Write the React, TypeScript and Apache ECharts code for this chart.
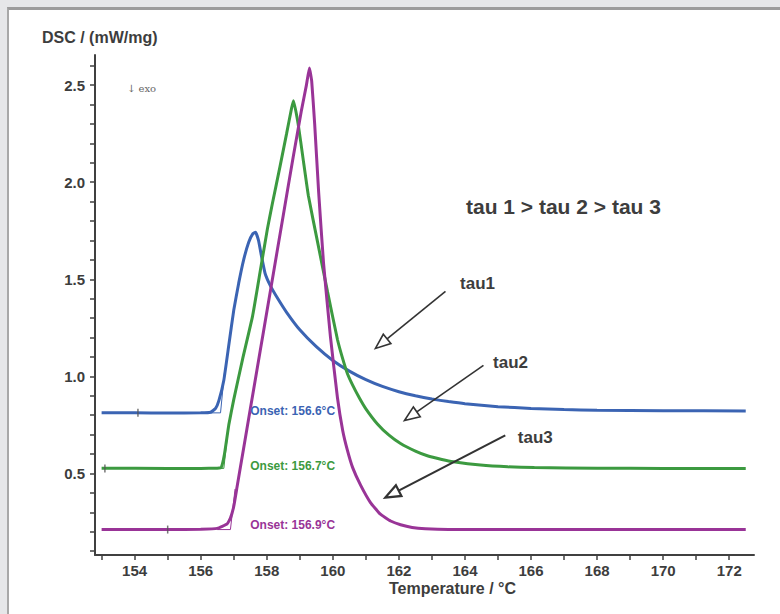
import React, { useEffect, useRef } from "react";
import * as echarts from "echarts";

// tau1 (blue)
const tau1Temp = [153.0, 154.0, 155.0, 156.0, 156.3, 156.45, 156.55, 156.7, 156.85, 157.0, 157.15, 157.3, 157.45, 157.58, 157.66, 157.75, 157.85, 157.95, 158.1, 158.3, 158.6, 159.0, 159.5, 160.0, 160.5, 161.0, 161.5, 162.0, 162.5, 163.0, 163.5, 164.0, 165.0, 166.0, 167.0, 168.0, 170.0, 172.5];
const tau1Dsc = [0.812, 0.812, 0.811, 0.812, 0.815, 0.835, 0.875, 0.98, 1.16, 1.34, 1.48, 1.6, 1.69, 1.735, 1.742, 1.70, 1.61, 1.53, 1.47, 1.41, 1.33, 1.24, 1.153, 1.082, 1.027, 0.983, 0.948, 0.921, 0.90, 0.883, 0.87, 0.859, 0.844, 0.835, 0.829, 0.826, 0.823, 0.822];

// tau2 (green)
const tau2Temp = [153.0, 155.0, 156.0, 156.5, 156.62, 156.72, 156.85, 157.0, 157.27, 157.57, 157.81, 158.02, 158.17, 158.4, 158.6, 158.75, 158.81, 158.95, 159.1, 159.26, 159.54, 159.84, 160.14, 160.3, 160.44, 160.6, 160.8, 161.0, 161.35, 161.7, 162.05, 162.5, 162.86, 163.3, 163.65, 164.47, 165.3, 166.1, 168.0, 170.0, 172.5];
const tau2Dsc = [0.527, 0.526, 0.526, 0.527, 0.53, 0.6, 0.75, 0.88, 1.09, 1.31, 1.55, 1.76, 1.89, 2.08, 2.25, 2.38, 2.42, 2.3, 2.12, 1.93, 1.69, 1.435, 1.19, 1.09, 1.015, 0.955, 0.89, 0.833, 0.755, 0.697, 0.654, 0.615, 0.591, 0.572, 0.56, 0.543, 0.534, 0.53, 0.527, 0.526, 0.526];

// tau3 (purple)
const tau3Temp = [153.0, 155.0, 156.0, 156.5, 156.8, 156.9, 157.0, 157.1, 157.3, 157.5, 157.7, 157.9, 158.2, 158.5, 158.8, 159.05, 159.2, 159.29, 159.36, 159.45, 159.57, 159.72, 159.93, 160.14, 160.3, 160.44, 160.6, 160.84, 161.14, 161.44, 161.75, 162.05, 162.4, 162.8, 163.5, 166.0, 169.0, 172.5];
const tau3Dsc = [0.211, 0.211, 0.213, 0.217, 0.24, 0.27, 0.33, 0.43, 0.63, 0.83, 1.03, 1.23, 1.53, 1.83, 2.13, 2.37, 2.5, 2.588, 2.52, 2.3, 1.95, 1.58, 1.2, 0.89, 0.72, 0.62, 0.53, 0.44, 0.35, 0.29, 0.255, 0.236, 0.222, 0.215, 0.211, 0.211, 0.211, 0.211];

// onset tangents: [baseline start, onset, tangent end]
const tau1TangentT = [156.3, 156.6, 156.72];
const tau1TangentV = [0.812, 0.812, 1.02];
const tau2TangentT = [156.4, 156.7, 156.84];
const tau2TangentV = [0.526, 0.526, 0.74];
const tau3TangentT = [156.5, 156.9, 157.04];
const tau3TangentV = [0.211, 0.211, 0.42];

// instrument marks on the baselines
const markTemps = [154.1, 153.1, 155.0];
const markDsc = [0.812, 0.526, 0.211];

const onsetLabels = ["Onset: 156.6°C", "Onset: 156.7°C", "Onset: 156.9°C"];
const onsetLabelT = [157.5, 157.5, 157.5];
const onsetLabelV = [0.82, 0.54, 0.235];

const arrowLabels = ["tau1", "tau2", "tau3"];
const arrowFromT = [163.41, 164.56, 165.22];
const arrowFromV = [1.438, 1.057, 0.696];
const arrowToT = [161.29, 162.17, 161.59];
const arrowToV = [1.144, 0.773, 0.376];
const arrowLabelT = [163.85, 164.85, 165.6];
const arrowLabelV = [1.48, 1.07, 0.685];

const colors = ["#3b64b3", "#3c9a40", "#993497"];
const textColor = "#3d3d3d";

const zip = (a: number[], b: number[]) => a.map((v, i) => [v, b[i]]);

export default function App() {
  const ref = useRef<HTMLDivElement>(null);
  useEffect(() => {
    document.body.style.margin = "0";
    const chart = echarts.init(ref.current!, null, { renderer: "svg" });
    const curve = (name: string, data: number[][], color: string) => ({
      name,
      type: "line",
      data,
      showSymbol: false,
      smooth: 0.12,
      lineStyle: { color, width: 3 },
      itemStyle: { color },
      z: 3,
    });
    const tangent = (data: number[][], color: string) => ({
      type: "line",
      data,
      showSymbol: false,
      lineStyle: { color, width: 1 },
      z: 4,
    });
    chart.setOption({
      animation: false,
      backgroundColor: "transparent",
      grid: { left: 95, right: 26, top: 55, bottom: 59, containLabel: false },
      xAxis: {
        type: "value",
        min: 152.8,
        max: 172.75,
        splitNumber: 20,
        axisLine: { lineStyle: { color: "#404040", width: 2 } },
        axisTick: { length: 5, lineStyle: { color: "#404040", width: 1.5 } },
        splitLine: { show: false },
        axisLabel: {
          margin: 8,
          color: textColor,
          fontSize: 15,
          fontWeight: "bold",
          fontFamily: "Liberation Sans, Arial, sans-serif",
          showMinLabel: false,
          showMaxLabel: false,
          formatter: (v: number) => {
            const r = Math.round(v);
            return Math.abs(v - r) < 1e-6 && r % 2 === 0 ? String(r) : "";
          },
        },
      },
      yAxis: {
        type: "value",
        min: 0.08,
        max: 2.655,
        splitNumber: 25,
        axisLine: { show: true, lineStyle: { color: "#404040", width: 2 } },
        axisTick: { show: true, length: 5, lineStyle: { color: "#404040", width: 1.5 } },
        splitLine: { show: false },
        axisLabel: {
          margin: 10,
          color: textColor,
          fontSize: 15,
          fontWeight: "bold",
          fontFamily: "Liberation Sans, Arial, sans-serif",
          showMinLabel: false,
          showMaxLabel: false,
          formatter: (v: number) => {
            const t = Math.round(v * 10);
            return Math.abs(v * 10 - t) < 1e-6 && t % 5 === 0 ? (t / 10).toFixed(1) : "";
          },
        },
      },
      series: [
        curve("tau1", zip(tau1Temp, tau1Dsc), colors[0]),
        curve("tau2", zip(tau2Temp, tau2Dsc), colors[1]),
        curve("tau3", zip(tau3Temp, tau3Dsc), colors[2]),
        tangent(zip(tau1TangentT, tau1TangentV), colors[0]),
        tangent(zip(tau2TangentT, tau2TangentV), colors[1]),
        tangent(zip(tau3TangentT, tau3TangentV), colors[2]),
        {
          type: "scatter",
          data: zip(markTemps, markDsc),
          symbol: "rect",
          symbolSize: [1.5, 8],
          itemStyle: { color: "#555" },
          z: 5,
        },
      ],
    });

    const px = (t: number, v: number) => chart.convertToPixel({ gridIndex: 0 }, [t, v]) as number[];
    const graphics: any[] = [
      {
        type: "text",
        left: 42,
        top: 29,
        style: { text: "DSC / (mW/mg)", fill: textColor, font: "bold 16px Liberation Sans, Arial, sans-serif" },
      },
      {
        type: "text",
        left: 127,
        top: 83,
        style: { text: "↓ exo", fill: "#666", font: "10px DejaVu Serif, serif" },
      },
      {
        type: "text",
        left: 389,
        top: 580,
        style: { text: "Temperature / °C", fill: textColor, font: "bold 16px Liberation Sans, Arial, sans-serif" },
      },
      {
        type: "text",
        left: 466,
        top: 196,
        style: { text: "tau 1 > tau 2 > tau 3", fill: textColor, font: "bold 21px Liberation Sans, Arial, sans-serif" },
      },
    ];
    onsetLabels.forEach((label, i) => {
      const p = px(onsetLabelT[i], onsetLabelV[i]);
      graphics.push({
        type: "text",
        x: p[0],
        y: p[1],
        style: {
          text: label,
          fill: colors[i],
          font: "bold 12px Liberation Sans, Arial, sans-serif",
          textAlign: "left",
          textVerticalAlign: "middle",
        },
        z: 10,
      });
    });
    arrowLabels.forEach((label, i) => {
      const p0 = px(arrowFromT[i], arrowFromV[i]);
      const p1 = px(arrowToT[i], arrowToV[i]);
      const dx = p1[0] - p0[0];
      const dy = p1[1] - p0[1];
      const len = Math.hypot(dx, dy);
      const ux = dx / len;
      const uy = dy / len;
      const L = 15;
      const W = 6;
      const bx = p1[0] - ux * L;
      const by = p1[1] - uy * L;
      const lw = i === 2 ? 2.2 : 1.6;
      graphics.push({
        type: "line",
        shape: { x1: p0[0], y1: p0[1], x2: bx, y2: by },
        style: { stroke: "#333", lineWidth: lw },
        z: 10,
      });
      graphics.push({
        type: "polygon",
        shape: {
          points: [
            [p1[0], p1[1]],
            [bx - uy * W, by + ux * W],
            [bx + uy * W, by - ux * W],
          ],
        },
        style: { fill: "#fff", stroke: "#333", lineWidth: lw },
        z: 10,
      });
      const lp = px(arrowLabelT[i], arrowLabelV[i]);
      graphics.push({
        type: "text",
        x: lp[0],
        y: lp[1],
        style: {
          text: label,
          fill: textColor,
          font: "bold 17px Liberation Sans, Arial, sans-serif",
          textAlign: "left",
          textVerticalAlign: "middle",
        },
        z: 10,
      });
    });
    chart.setOption({ graphic: graphics });
    return () => chart.dispose();
  }, []);
  return (
    <div style={{ position: "relative", width: 780, height: 614, background: "#e6e7e9", overflow: "hidden" }}>
      <div
        style={{
          position: "absolute",
          left: 7,
          top: 7,
          right: 0,
          bottom: 0,
          background: "#ffffff",
          borderTop: "3px solid #9c9c9c",
          borderLeft: "2px solid #a8a8a8",
        }}
      />
      <div ref={ref} style={{ position: "absolute", left: 0, top: 0, width: 780, height: 614 }} />
    </div>
  );
}
